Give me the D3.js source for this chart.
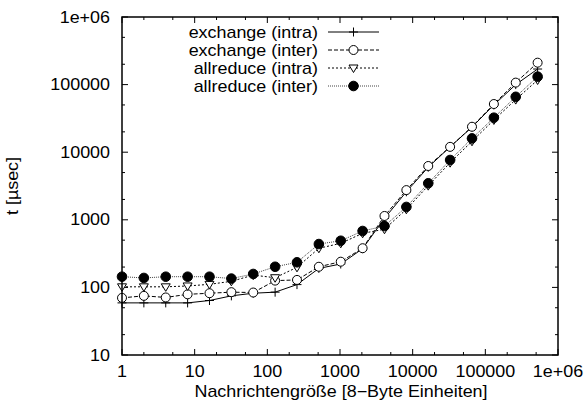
<!DOCTYPE html>
<html>
<head>
<meta charset="utf-8">
<script src="https://cdn.jsdelivr.net/npm/d3@7"></script>
<style>
  body { margin: 0; background: #ffffff; }
  svg { display: block; }
  text { font-family: "Liberation Sans", Arial, Helvetica, sans-serif; font-size: 16px; fill: #000; }
</style>
</head>
<body>
<svg id="chart" width="587" height="412"></svg>
<script>

// message size in 8-byte units: 1, 2, 4, ... 2^19
const sizes = [1, 2, 4, 8, 16, 32, 64, 128, 256, 512, 1024, 2048, 4096,
  8192, 16384, 32768, 65536, 131072, 262144, 524288];

const exchangeIntra = [59, 59, 59, 59, 64, 75, 82, 85, 110, 191, 222, 374, 1050,
  2600, 6000, 12000, 23500, 50000, 100000, 170000];
const exchangeInter = [70, 75, 71, 79, 82, 85, 84, 126, 129, 202, 240, 380, 1140,
  2750, 6250, 12000, 23800, 51600, 107000, 211000];
const allreduceIntra = [102, 102, 102, 105, 111, 123, 152, 139, 198, 379, 449, 631, 725,
  1430, 3200, 7000, 14500, 30000, 60000, 117000];
const allreduceInter = [144, 138, 144, 144, 144, 135, 158, 202, 235, 438, 490, 683, 809,
  1550, 3470, 7670, 16000, 32400, 66000, 131000];

const seriesNames = ['exchange (intra)', 'exchange (inter)', 'allreduce (intra)', 'allreduce (inter)'];
const seriesValues = [exchangeIntra, exchangeInter, allreduceIntra, allreduceInter];

const xTicks = [1, 10, 100, 1000, 10000, 100000, 1e6];
const xTickLabels = ['1', '10', '100', '1000', '10000', '100000', '1e+06'];
const yTicks = [10, 100, 1000, 10000, 100000, 1e6];
const yTickLabels = ['10', '100', '1000', '10000', '100000', '1e+06'];

const xTitle = 'Nachrichtengröße [8−Byte Einheiten]';
const yTitle = 't [µsec]';


const plot = {left: 122, right: 558, top: 17, bottom: 355};
const stretch = 1.12;  // reference text is a little wide

const styles = [
  {dash: null, stroke: '#000', marker: 'plus'},
  {dash: '4,2', stroke: '#000', marker: 'circle'},
  {dash: '2,2', stroke: '#000', marker: 'triangle'},
  {dash: '1,1', stroke: '#444', marker: 'dot'}
];

const x = d3.scaleLog().domain([1, 1e6]).range([plot.left, plot.right]);
const y = d3.scaleLog().domain([10, 1e6]).range([plot.bottom, plot.top]);


function label(selection, px, py, str, anchor, rotate) {
  const rot = rotate ? ` rotate(${rotate})` : '';
  selection.append('text')
      .attr('transform', `translate(${px},${py})${rot} scale(${stretch},1)`)
      .attr('text-anchor', anchor)
      .text(str);
}


function drawMarker(selection, kind, px, py) {
  const g = selection.append('g')
      .attr('transform', `translate(${px},${py})`)
      .attr('stroke', '#000')
      .attr('stroke-width', 1)
      .attr('fill', 'none');
  if (kind === 'plus') {
    g.append('path').attr('d', 'M-4.5,0H4.5M0,-4.5V4.5');
  } else if (kind === 'circle') {
    g.append('circle').attr('r', 4.5).attr('fill', '#fff');
  } else if (kind === 'triangle') {
    g.append('path').attr('d', 'M-4.5,-3L4.5,-3L0,4.5Z').attr('fill', '#fff');
  } else {
    g.append('circle').attr('r', 4.8).attr('fill', '#000');
  }
}


function drawTicks(selection) {
  const major = 6, minor = 3;
  const t = selection.append('g')
      .attr('stroke', '#000')
      .attr('stroke-width', 1);
  const xMinor = [];
  const yMinor = [];
  for (let d = 1; d < 1e6; d *= 10) xMinor.push(2 * d, 5 * d);
  for (let d = 10; d < 1e6; d *= 10) yMinor.push(2 * d, 5 * d);
  const xt = xTicks.map(v => [v, major]).concat(xMinor.map(v => [v, minor]));
  const yt = yTicks.map(v => [v, major]).concat(yMinor.map(v => [v, minor]));
  xt.forEach(([v, len]) => {
    const px = x(v);
    t.append('line').attr('x1', px).attr('x2', px)
        .attr('y1', plot.bottom).attr('y2', plot.bottom - len);
    t.append('line').attr('x1', px).attr('x2', px)
        .attr('y1', plot.top).attr('y2', plot.top + len);
  });
  yt.forEach(([v, len]) => {
    const py = y(v);
    t.append('line').attr('y1', py).attr('y2', py)
        .attr('x1', plot.left).attr('x2', plot.left + len);
    t.append('line').attr('y1', py).attr('y2', py)
        .attr('x1', plot.right).attr('x2', plot.right - len);
  });
}


function drawSeries(selection) {
  const line = d3.line()
    .x(d => x(d[0]))
    .y(d => y(d[1]));
  seriesValues.forEach((vals, i) => {
    const pts = sizes.map((s, k) => [s, vals[k]]);
    const st = styles[i];
    selection.append('path')
        .datum(pts)
        .attr('d', line)
        .attr('fill', 'none')
        .attr('stroke', st.stroke)
        .attr('stroke-width', 1)
        .attr('stroke-dasharray', st.dash);
    pts.forEach(p => drawMarker(selection, st.marker, x(p[0]), y(p[1])));
  });
}


function drawLegend(selection) {
  const rowY = [32, 50, 68, 86];
  const textRight = 318, x0 = 328, x1 = 379;
  seriesNames.forEach((name, i) => {
    const st = styles[i];
    const ly = rowY[i];
    label(selection, textRight, ly + 5.5, name, 'end');
    selection.append('line')
        .attr('x1', x0).attr('x2', x1)
        .attr('y1', ly).attr('y2', ly)
        .attr('stroke', st.stroke)
        .attr('stroke-width', 1)
        .attr('stroke-dasharray', st.dash);
    drawMarker(selection, st.marker, (x0 + x1) / 2, ly);
  });
}


const svg = d3.select('#chart');

svg.append('g').call(drawTicks);
svg.append('g').call(drawSeries);
svg.append('g').call(drawLegend);

// Frame
svg.append('rect')
    .attr('x', plot.left)
    .attr('y', plot.top)
    .attr('width', plot.right - plot.left)
    .attr('height', plot.bottom - plot.top)
    .attr('fill', 'none')
    .attr('stroke', '#000')
    .attr('stroke-width', 1.5);

// Tick labels
const labels = svg.append('g');
xTicks.forEach((v, i) => label(labels, x(v), 377, xTickLabels[i], 'middle'));
yTicks.forEach((v, i) => label(labels, 110, y(v) + 5.5, yTickLabels[i], 'end'));

// Axis titles
label(labels, (plot.left + plot.right) / 2 + 1, 397, xTitle, 'middle');
label(labels, 18, 186, yTitle, 'middle', -90);

</script>
</body>
</html>
